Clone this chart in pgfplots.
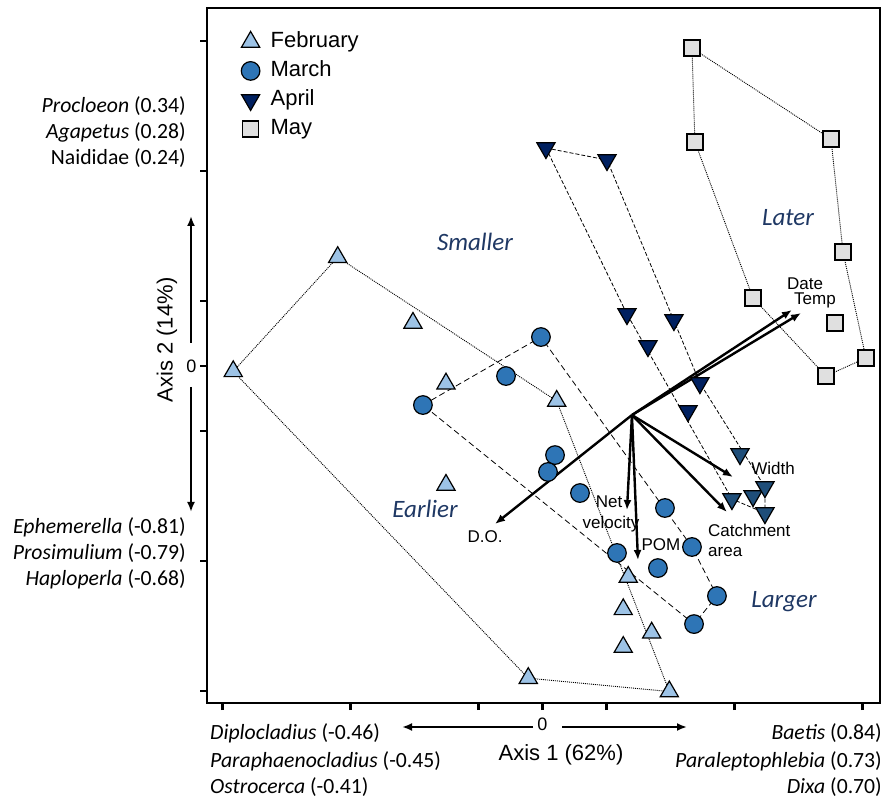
\documentclass[border=0pt]{standalone}
\usepackage{pgfplots}
\pgfplotsset{compat=1.18}
\usepackage{fontspec}
\setmainfont{Liberation Sans}
\newfontfamily\calfont{Carlito}
\usetikzlibrary{arrows.meta}

\definecolor{feb}{HTML}{9DC3E6}
\definecolor{mar}{HTML}{2E75B6}
\definecolor{apr}{HTML}{002060}
\definecolor{aprb}{HTML}{1F4E79}
\definecolor{may}{HTML}{E0E0E0}
\definecolor{zone}{HTML}{1F3864}

\begin{document}
\begin{tikzpicture}
\useasboundingbox (0pt,0pt) rectangle (893pt,797pt);
\begin{axis}[
  at={(207pt,94pt)}, anchor=south west,
  width=673pt, height=695pt, scale only axis,
  xmin=-2.621, xmax=2.637, ymin=-2.592, ymax=2.754,
  clip=false,
  axis line style={line width=2.4pt},
  xtick={-2.5,-1.5,-0.5,0,0.5,1.5,2.5},
  ytick={-2.5,-1.5,-0.5,0,0.5,1.5,2.5},
  xticklabels={,,,0,,,},
  yticklabels={,,,0,,,},
  xtick pos=bottom, ytick pos=left,
  tick align=outside,
  major tick length=7pt,
  every tick/.style={black, line width=2.4pt},
  tick label style={font=\fontsize{18}{20}\selectfont},
  xticklabel style={yshift=-4pt},
  legend style={at={(axis cs:-2.378,2.606)}, anchor=north west, draw=none, fill=none,
    font=\fontsize{22}{26}\selectfont, row sep=4pt,
    nodes={text height=16pt, text depth=5pt, inner sep=2pt}},
  legend cell align=left,
  legend image code/.code={\draw[#1] plot coordinates {(0pt,0pt)};
    \path[draw=none, fill=none] (0pt,0pt) rectangle (18pt,0pt);},
]
% sample scores by month
\addplot[only marks, mark=triangle*, mark size=10.5pt,
  mark options={draw=black, fill=feb, line width=1.2pt}] coordinates {
  (-2.416,-0.041) (-1.600,0.837) (-1.012,0.331) (-0.754,-0.136)
  (0.111,-0.269) (-0.754,-0.915) (0.670,-1.623) (0.631,-1.872)
  (0.853,-2.052) (0.631,-2.162) (-0.111,-2.401) (0.991,-2.504)};
\addlegendentry{February}
\addplot[only marks, mark=*, mark size=9.3pt,
  mark options={draw=black, fill=mar, line width=1.2pt}] coordinates {
  (-0.012,0.223) (-0.285,-0.077) (-0.934,-0.300) (0.098,-0.685)
  (0.043,-0.815) (0.293,-0.977) (0.957,-1.092) (0.582,-1.438)
  (0.902,-1.554) (1.168,-1.392) (1.363,-1.769) (1.184,-1.985)};
\addlegendentry{March}
\addplot[only marks, mark=triangle*, mark size=10.5pt,
  mark options={draw=black, fill=apr, line width=1.2pt, rotate=180}] coordinates {
  (0.027,1.677) (0.504,1.585) (0.660,0.400) (1.027,0.354)
  (0.824,0.154) (1.230,-0.131) (1.137,-0.346)};
\addlegendentry{April}
\addplot[only marks, mark=square*, mark size=8pt,
  mark options={draw=black, fill=may, line width=1.2pt}] coordinates {
  (1.168,2.446) (1.191,1.723) (2.254,1.746) (2.348,0.877)
  (1.645,0.523) (2.285,0.331) (2.527,0.062) (2.215,-0.077)};
\addlegendentry{May}
\addplot[only marks, mark=triangle*, mark size=10.5pt, forget plot,
  mark options={draw=black, fill=aprb, line width=1.2pt, rotate=180}] coordinates {
  (1.543,-0.677) (1.480,-1.023) (1.645,-1.000) (1.738,-0.931) (1.738,-1.131)};

% convex hulls
\addplot[forget plot, black, line width=0.9pt, dash pattern=on 1pt off 1pt] coordinates {
  (-2.416,-0.041) (-1.600,0.837) (0.111,-0.269) (0.991,-2.504) (-0.111,-2.401) (-2.416,-0.041)};
\addplot[forget plot, black, line width=0.8pt, dash pattern=on 6pt off 3.5pt] coordinates {
  (-0.934,-0.300) (-0.012,0.223) (1.168,-1.392) (1.363,-1.769) (1.184,-1.985) (-0.934,-0.300)};
\addplot[forget plot, black, line width=0.8pt, dash pattern=on 4pt off 2pt] coordinates {
  (0.027,1.677) (0.504,1.585) (1.230,-0.131) (1.738,-0.931) (1.738,-1.131)
  (1.480,-1.023) (0.660,0.400) (0.027,1.677)};
\addplot[forget plot, black, line width=0.9pt, dash pattern=on 1pt off 1pt] coordinates {
  (1.168,2.446) (2.254,1.746) (2.348,0.877) (2.527,0.062) (2.215,-0.077)
  (1.645,0.523) (1.191,1.723) (1.168,2.446)};

% environmental vectors
\addplot[forget plot, line width=2.4pt, -{Latex[length=10pt,width=8pt]}] coordinates {(0.699,-0.377) (1.949,0.431)};
\addplot[forget plot, line width=2.4pt, -{Latex[length=10pt,width=8pt]}] coordinates {(0.699,-0.377) (2.020,0.408)};
\addplot[forget plot, line width=2.4pt, -{Latex[length=10pt,width=8pt]}] coordinates {(0.699,-0.377) (-0.371,-1.215)};
\addplot[forget plot, line width=2.4pt, -{Latex[length=10pt,width=8pt]}] coordinates {(0.699,-0.377) (0.660,-1.108)};
\addplot[forget plot, line width=2.4pt, -{Latex[length=10pt,width=8pt]}] coordinates {(0.699,-0.377) (0.746,-1.492)};
\addplot[forget plot, line width=2.4pt, -{Latex[length=10pt,width=8pt]}] coordinates {(0.699,-0.377) (1.488,-0.854)};
\addplot[forget plot, line width=2.4pt, -{Latex[length=10pt,width=8pt]}] coordinates {(0.699,-0.377) (1.441,-1.123)};
\end{axis}

\begin{scope}[x=1pt, y=-1pt, shift={(0pt,797pt)}]
  % vector labels
  \begin{scope}[every node/.style={inner sep=0pt, font=\fontsize{17}{19}\selectfont}]
    \node[anchor=base] at (805,290) {Date};
    \node[anchor=base] at (815,305) {Temp};
    \node[anchor=base] at (485,543) {D.O.};
    \node[anchor=base] at (609,508) {Net};
    \node[anchor=base] at (611,529) {velocity};
    \node[anchor=base] at (661,551) {POM};
    \node[anchor=base] at (773,475) {Width};
    \node[anchor=base west] at (708,537) {Catchment};
    \node[anchor=base west] at (708,557) {area};
  \end{scope}
  % gradient labels
  \begin{scope}[every node/.style={inner sep=0pt, text=zone, font=\calfont\itshape\fontsize{25}{28}\selectfont}]
    \node[anchor=base] at (475,251) {Smaller};
    \node[anchor=base] at (788,226) {Later};
    \node[anchor=base] at (425,518) {Earlier};
    \node[anchor=base] at (784,608) {Larger};
  \end{scope}
  % species correlated with the axes
  \begin{scope}[every node/.style={inner sep=0pt, font=\calfont\fontsize{21.7}{25}\selectfont}]
    \node[anchor=base east] at (186,113) {\textit{Procloeon} (0.34)};
    \node[anchor=base east] at (186,139) {\textit{Agapetus} (0.28)};
    \node[anchor=base east] at (186,165) {Naididae (0.24)};
    \node[anchor=base east] at (186,534) {\textit{Ephemerella} (-0.81)};
    \node[anchor=base east] at (186,560) {\textit{Prosimulium} (-0.79)};
    \node[anchor=base east] at (186,586) {\textit{Haploperla} (-0.68)};
    \node[anchor=base west] at (210,740) {\textit{Diplocladius} (-0.46)};
    \node[anchor=base west] at (210,767) {\textit{Paraphaenocladius} (-0.45)};
    \node[anchor=base west] at (210,793) {\textit{Ostrocerca} (-0.41)};
    \node[anchor=base east] at (882,740) {\textit{Baetis} (0.84)};
    \node[anchor=base east] at (882,767) {\textit{Paraleptophlebia} (0.73)};
    \node[anchor=base east] at (882,793) {\textit{Dixa} (0.70)};
  \end{scope}
  % axis titles and direction arrows
  \node[inner sep=0pt, anchor=base, font=\fontsize{22}{26}\selectfont] at (561,760) {Axis 1 (62\%)};
  \node[inner sep=0pt, rotate=90, font=\fontsize{22}{26}\selectfont] at (167,340) {Axis 2 (14\%)};
  \draw[line width=2.4pt, -{Latex[length=10pt,width=8pt]}] (191,343) -- (191,216);
  \draw[line width=2.4pt, -{Latex[length=10pt,width=8pt]}] (191,387) -- (191,512);
  \draw[line width=2.4pt, -{Latex[length=10pt,width=8pt]}] (533,727) -- (402,727);
  \draw[line width=2.4pt, -{Latex[length=10pt,width=8pt]}] (562,727) -- (687,727);
\end{scope}
\end{tikzpicture}
\end{document}
